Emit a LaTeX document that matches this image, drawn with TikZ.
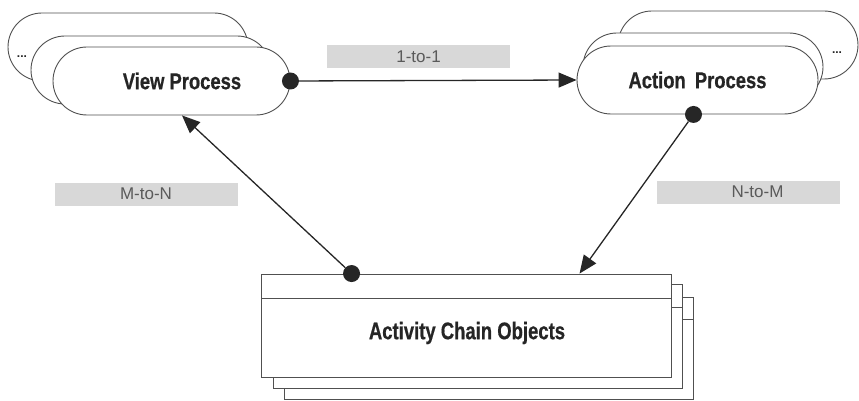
\documentclass[tikz,border=0pt]{standalone}
\usepackage{fontspec}
\setmainfont{Liberation Sans}
\newfontfamily\headfont[FakeStretch=0.8, FakeBold=0.6]{Liberation Sans}
\newfontfamily\chainfont[FakeStretch=0.77, FakeBold=0.6]{Liberation Sans}
\usetikzlibrary{arrows.meta,shapes.misc}

\definecolor{outline}{HTML}{505050}
\definecolor{wire}{HTML}{262626}
\definecolor{tagfill}{HTML}{D8D8D8}
\definecolor{tagtext}{HTML}{5A5A5A}
\definecolor{headtext}{HTML}{252525}

\tikzset{
  proc/.style={rounded rectangle, draw=outline, line width=0.9pt, fill=white,
    minimum width=240pt, minimum height=68pt, inner sep=0pt,
    font=\headfont\bfseries\fontsize{23}{23}\selectfont, text=headtext},
  sheet/.style={draw=outline, line width=0.9pt, fill=white},
  tag/.style={fill=tagfill, minimum width=183pt, minimum height=23pt, inner sep=0pt,
    font=\fontsize{17}{17}\selectfont, text=tagtext},
  dot/.style={circle, fill=wire, minimum size=17pt, inner sep=0pt},
  link/.style={draw=wire, line width=1.3pt, -{Triangle[length=18pt,width=15pt]}},
  more/.style={font=\bfseries\fontsize{12}{12}\selectfont, text=headtext, inner sep=0pt}
}

\begin{document}
\begin{tikzpicture}[x=1pt,y=-1pt]
\useasboundingbox (0,0) rectangle (859,401);

% stack of view processes
\node[proc] (viewback) at (128,47) {};
\node[more] (viewmore) at (22,57) {...};
\node[proc] (viewmid) at (151,70) {};
\node[proc, minimum width=237pt] (view) at (171.5,81) {\hspace*{21pt}View Process};

% stack of action processes
\node[proc] (actback) at (738,45) {};
\node[more] (actmore) at (837,53) {...};
\node[proc] (actmid) at (703,67) {};
\node[proc, minimum width=241pt] (action) at (697.5,80) {Action\hspace{4pt} Process};

% stack of activity chain object sheets
\draw[sheet] (284,297) rectangle (693,399);
\draw[outline, line width=0.9pt] (284,319) -- (693,319);
\draw[sheet] (273,284) rectangle (682,388);
\draw[outline, line width=0.9pt] (273,307) -- (682,307);
\node[sheet, minimum width=410pt, minimum height=103pt, inner sep=0pt] (aco) at (466,325.5) {};
\draw[outline, line width=0.9pt] (261,298) -- (671,298);
\node[font=\chainfont\bfseries\fontsize{24}{24}\selectfont, text=headtext] (acotext) at (467,333) {Activity Chain Objects};

% multiplicity labels
\node[tag] (one) at (418.5,57) {1-to-1};
\node[tag] (mn) at (146,194) {M-to-N};
\node[tag] (nm) at (748.5,192) {\hspace*{18pt}N-to-M};

% connectors
\coordinate (acoin) at ([xshift=319pt]aco.north west);
\coordinate (viewin) at ([xshift=10.5pt]view.south);

\node[dot] (d1) at (view.east) {};
\draw[link] (d1) -- (action.west);

\node[dot] (d2) at ([xshift=-4pt]action.south) {};
\draw[link] (d2) -- (acoin);

\node[dot] (d3) at ([xshift=91pt]aco.north west) {};
\draw[link] (d3) -- (viewin);
\end{tikzpicture}
\end{document}
